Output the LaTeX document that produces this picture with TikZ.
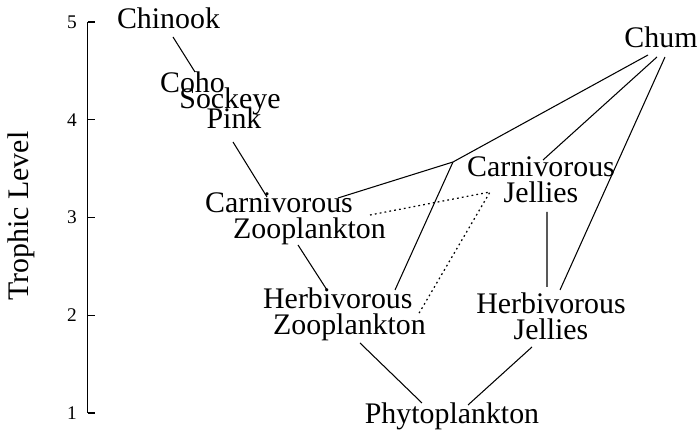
\documentclass[tikz,border=0pt]{standalone}
\usepackage{fontspec}
\setmainfont{Liberation Serif}
\usetikzlibrary{calc}
\tikzset{
  taxon/.style={inner sep=0pt,align=center,font=\fontsize{17}{14.6}\selectfont},
  levelno/.style={inner sep=0pt,font=\fontsize{11}{13}\selectfont},
  link/.style={line width=0.6pt},
  crosslink/.style={line width=0.7pt,dash pattern=on 1pt off 1.8pt}
}
\newcommand{\levely}[1]{0.40+1.955*(#1-1)}

\begin{document}
\begin{tikzpicture}[x=1cm,y=1cm]
  \useasboundingbox (0,0) rectangle (13.96,8.66);
  \draw[link] (1.75,0.40) -- (1.75,8.22);
  \foreach \lvl in {1,...,5} {
    \draw[link] (1.75,{\levely{\lvl}}) -- (1.90,{\levely{\lvl}});
    \node[levelno] (lvl\lvl) at (1.44,{\levely{\lvl}}) {\lvl};
  }
  \node[taxon,rotate=90] (ylabel) at (0.42,4.34) {Trophic Level};
  \node[taxon] (chinook) at (3.37,8.30) {Chinook};
  \node[taxon] (coho) at (3.85,7.02) {Coho};
  \node[taxon] (sockeye) at (4.60,6.64) {Sockeye};
  \node[taxon] (pink) at (4.68,6.30) {Pink};
  \node[taxon,align=left] (carnzoo) at (5.91,4.28) {Carnivorous\\\hspace*{0.56cm}Zooplankton};
  \node[taxon,align=left] (herbzoo) at (6.89,2.38) {Herbivorous\\\hspace*{0.2cm}Zooplankton};
  \node[taxon] (carnjel) at (10.82,5.06) {Carnivorous\\Jellies};
  \node[taxon] (herbjel) at (11.02,2.34) {Herbivorous\\Jellies};
  \node[taxon] (phyto) at (9.04,0.34) {Phytoplankton};
  \node[taxon] (chum) at (13.22,7.92) {Chum};
  \coordinate (fork) at (9.06,5.42);
  \coordinate (jelbend) at ([shift={(-1.02,-0.24)}]carnjel.center);
  \draw[link] ([shift={(0.09,-0.38)}]chinook.center) -- ([shift={(0.05,0.20)}]coho.center);
  \draw[link] ([shift={(-0.02,-0.48)}]pink.center) -- ([shift={(-0.57,0.44)}]carnzoo.center);
  \draw[link] ([shift={(0.05,-0.52)}]carnzoo.center) -- ([shift={(-0.35,0.48)}]herbzoo.center);
  \draw[link] ([shift={(0.31,-0.58)}]herbzoo.center) -- ([shift={(-0.60,0.26)}]phyto.center);
  \draw[link] ([shift={(-0.38,-0.62)}]herbjel.center) -- ([shift={(0.32,0.22)}]phyto.center);
  \draw[link] ([shift={(0.12,-0.64)}]carnjel.center) -- ([shift={(-0.08,0.58)}]herbjel.center);
  \draw[link] ([shift={(0.08,-0.40)}]chum.center) -- ([shift={(0.18,0.52)}]herbjel.center);
  \draw[link] ([shift={(-0.08,-0.40)}]chum.center) -- ([shift={(0.04,0.40)}]carnjel.center);
  \draw[link] ([shift={(-0.26,-0.36)}]chum.center) -- (fork) -- ([shift={(0.85,0.42)}]carnzoo.center);
  \draw[link] (fork) -- ([shift={(1.01,0.48)}]herbzoo.center);
  \draw[crosslink] ([shift={(1.49,0.08)}]carnzoo.center) -- (jelbend) -- ([shift={(1.47,-0.02)}]herbzoo.center);
\end{tikzpicture}
\end{document}
